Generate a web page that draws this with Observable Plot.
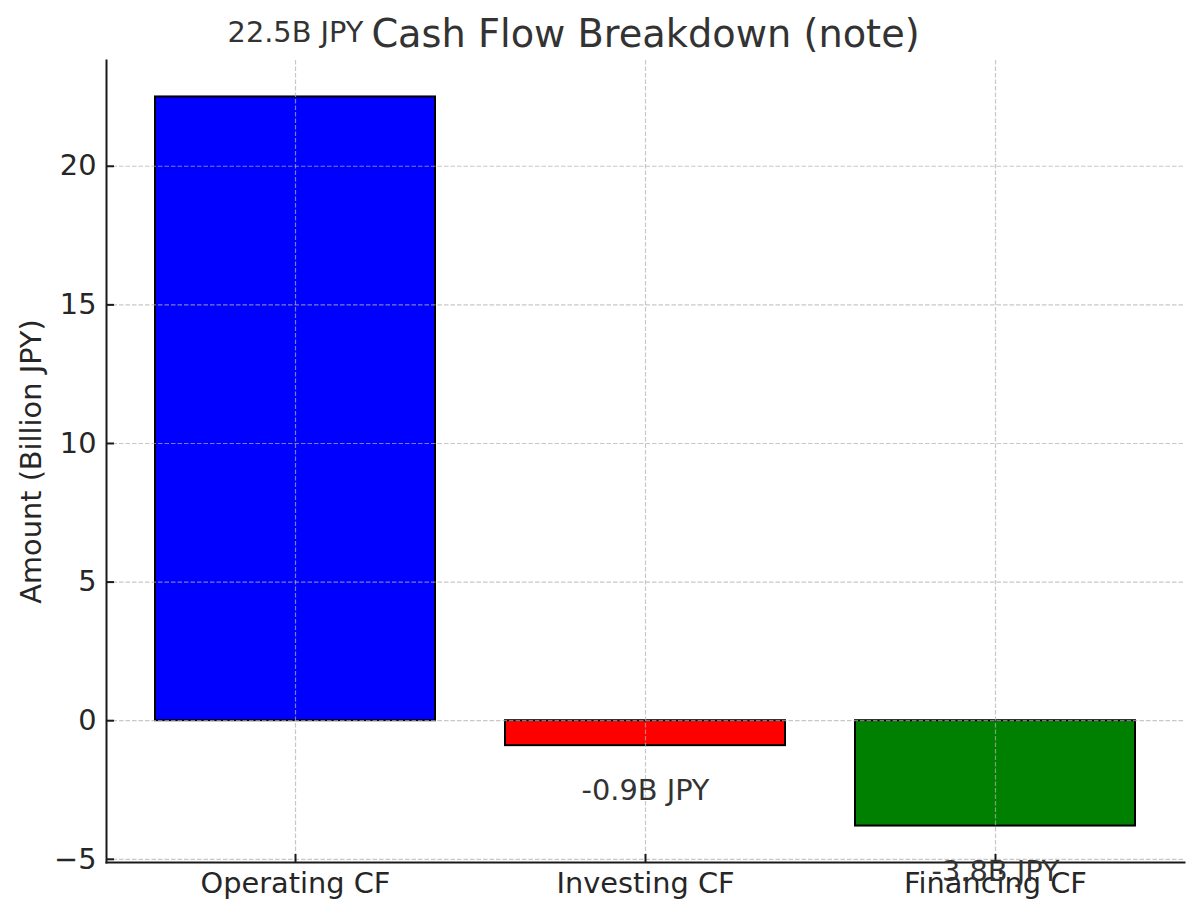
<!DOCTYPE html>
<html>
<head>
<meta charset="utf-8">
<script src="https://cdn.jsdelivr.net/npm/d3@7"></script>
<script src="https://cdn.jsdelivr.net/npm/@observablehq/plot@0.6"></script>
<style>
  html, body { margin: 0; padding: 0; background: #fff; }
  #chart svg { display: block; }
</style>
</head>
<body>
<div id="chart"></div>
<script>
const title = "Cash Flow Breakdown (note)";
const yLabel = "Amount (Billion JPY)";
const categories = ["Operating CF", "Investing CF", "Financing CF"];
const values = [22.5, -0.9, -3.8];
const colors = ["#0000ff", "#ff0000", "#008000"];
const valueLabels = ["22.5B JPY", "-0.9B JPY", "-3.8B JPY"];
const yTicks = [-5, 0, 5, 10, 15, 20];

const data = categories.map((c, i) => ({category: c, value: values[i], color: colors[i], label: valueLabels[i]}));

const yMin = Math.min(0, d3.min(values)), yMax = Math.max(0, d3.max(values));
const pad = (yMax - yMin) * 0.05;

const fontFamily = "'DejaVu Sans', sans-serif";
const gridColor = "#b0b0b0";
const fs = 28.8;

const chart = Plot.plot({
  width: 1200,
  height: 917,
  marginLeft: 106,
  marginRight: 16,
  marginTop: 60,
  marginBottom: 55,
  style: {fontFamily, fontSize: fs + "px", color: "#262626", background: "#fff"},
  x: {type: "band", domain: categories, paddingInner: 0.2, paddingOuter: 0.14, label: null},
  y: {domain: [yMin - pad, yMax + pad], label: null},
  marks: [
    Plot.barY(data, {x: "category", y: "value", fill: "color", stroke: "#000", strokeWidth: 2}),
    // grid
    Plot.ruleY(yTicks, {stroke: gridColor, strokeOpacity: 0.7, strokeWidth: 1.2, strokeDasharray: "4.5,2"}),
    Plot.ruleX(categories, {x: d => d, stroke: gridColor, strokeOpacity: 0.7, strokeWidth: 1.2, strokeDasharray: "4.5,2"}),
    // spines
    Plot.frame({anchor: "left", stroke: "#1a1a1a", strokeWidth: 2}),
    Plot.frame({anchor: "bottom", stroke: "#1a1a1a", strokeWidth: 2}),
    // inward tick marks
    Plot.tickY(yTicks, {y: d => d, stroke: "#1a1a1a", strokeWidth: 2, insetRight: 1078 - 8}),
    Plot.tickX(categories, {x: d => d, stroke: "#1a1a1a", strokeWidth: 2, insetTop: 802 - 8}),
    // axes labels
    Plot.axisY({ticks: yTicks, tickSize: 0, tickPadding: 10, fontSize: fs, tickFormat: d => d < 0 ? "\u2212" + Math.abs(d) : String(d), label: null}),
    Plot.axisX({tickSize: 0, tickPadding: 10, fontSize: fs, label: null}),
    // value labels
    Plot.text(data, {x: "category", y: d => d.value + (d.value > 0 ? 2.33 : -1.64), text: "label", fontSize: fs, fill: "#333", lineAnchor: "middle", textAnchor: "middle"}),
    // y axis title
    Plot.text([yLabel], {frameAnchor: "left", dx: -75, rotate: -90, fontSize: fs, fill: "#262626", lineAnchor: "middle", textAnchor: "middle"}),
    // chart title
    Plot.text([title], {frameAnchor: "top", dy: -26, fontSize: 38.3, fill: "#333", lineAnchor: "middle", textAnchor: "middle"})
  ]
});
document.getElementById("chart").appendChild(chart);
</script>
</body>
</html>
